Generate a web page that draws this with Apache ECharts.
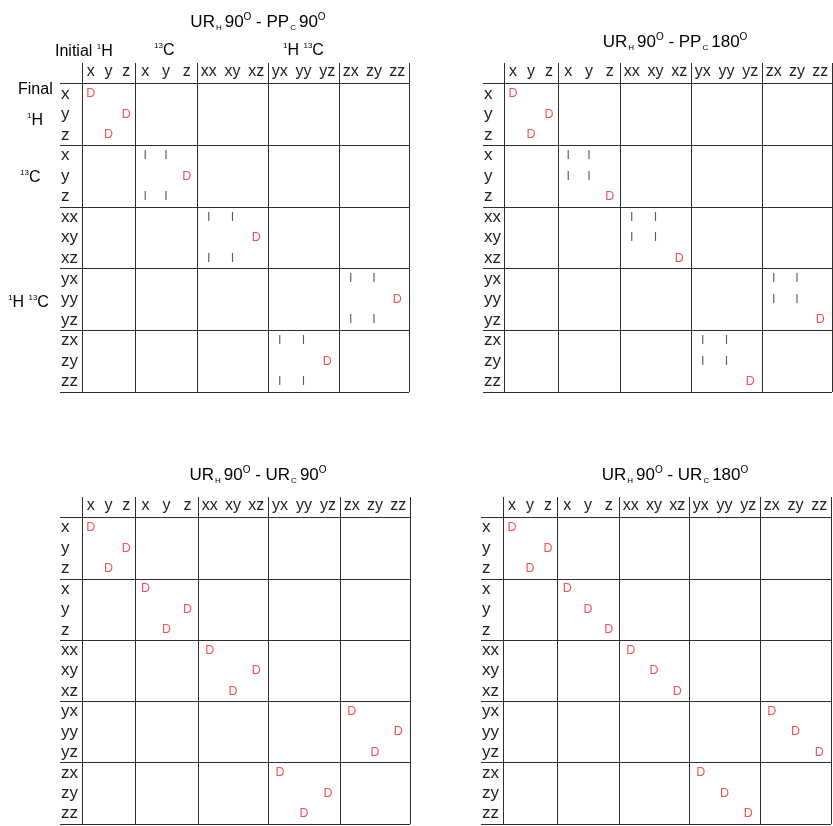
<!DOCTYPE html>
<html>
<head>
<meta charset="utf-8">
<script src="https://cdn.jsdelivr.net/npm/echarts@6/dist/echarts.min.js"></script>
<style>html,body{margin:0;padding:0;background:#fff}#c{width:833px;height:826px}</style>
</head>
<body>
<div id="c"></div>
<script>
// ---- data ----
const colLabels = ['x','y','z','x','y','z','xx','xy','xz','yx','yy','yz','zx','zy','zz'];
const rowLabels = ['x','y','z','x','y','z','xx','xy','xz','yx','yy','yz','zx','zy','zz'];
const panelTitles = [
  '{m|UR}{sb|H}{m|90}{sp|O}{m| - PP}{sb|C}{m|90}{sp|O}',
  '{m|UR}{sb|H}{m|90}{sp|O}{m| - PP}{sb|C}{m|180}{sp|O}',
  '{m|UR}{sb|H}{m|90}{sp|O}{m| - UR}{sb|C}{m|90}{sp|O}',
  '{m|UR}{sb|H}{m|90}{sp|O}{m| - UR}{sb|C}{m|180}{sp|O}'
];
// marks: [rowIndex, colIndex, symbol]
const marksPP90 = [
  [0,0,'D'],[1,2,'D'],[2,1,'D'],
  [3,3,'I'],[3,4,'I'],[4,5,'D'],[5,3,'I'],[5,4,'I'],
  [6,6,'I'],[6,7,'I'],[7,8,'D'],[8,6,'I'],[8,7,'I'],
  [9,12,'I'],[9,13,'I'],[10,14,'D'],[11,12,'I'],[11,13,'I'],
  [12,9,'I'],[12,10,'I'],[13,11,'D'],[14,9,'I'],[14,10,'I']
];
const marksPP180 = [
  [0,0,'D'],[1,2,'D'],[2,1,'D'],
  [3,3,'I'],[3,4,'I'],[4,3,'I'],[4,4,'I'],[5,5,'D'],
  [6,6,'I'],[6,7,'I'],[7,6,'I'],[7,7,'I'],[8,8,'D'],
  [9,12,'I'],[9,13,'I'],[10,12,'I'],[10,13,'I'],[11,14,'D'],
  [12,9,'I'],[12,10,'I'],[13,9,'I'],[13,10,'I'],[14,11,'D']
];
const marksUR90 = [
  [0,0,'D'],[1,2,'D'],[2,1,'D'],
  [3,3,'D'],[4,5,'D'],[5,4,'D'],
  [6,6,'D'],[7,8,'D'],[8,7,'D'],
  [9,12,'D'],[10,14,'D'],[11,13,'D'],
  [12,9,'D'],[13,11,'D'],[14,10,'D']
];
const marksUR180 = [
  [0,0,'D'],[1,2,'D'],[2,1,'D'],
  [3,3,'D'],[4,4,'D'],[5,5,'D'],
  [6,6,'D'],[7,7,'D'],[8,8,'D'],
  [9,12,'D'],[10,13,'D'],[11,14,'D'],
  [12,9,'D'],[13,10,'D'],[14,11,'D']
];

// ---- layout ----
const FONT = '"Liberation Sans", Arial, Helvetica, sans-serif';
const lineStyle = {color:'#2e2e2e', width:1};
const panels = [
  {marks:marksPP90,  edges:[82,135,197,268,339,409], labelLeft:60,  top:63,  bottom:392, tx:258, ty:22},
  {marks:marksPP180, edges:[504,558,620,691,762,832], labelLeft:483, top:63,  bottom:392, tx:675, ty:42},
  {marks:marksUR90,  edges:[82,135,198,268,340,410], labelLeft:60,  top:497, bottom:824, tx:258, ty:475},
  {marks:marksUR180, edges:[503,557,619,689,760,831], labelLeft:481, top:497, bottom:824, tx:675, ty:475}
];
const yCats = [''].concat(rowLabels);
const grid=[], xAxis=[], yAxis=[], series=[];
const hSplit = {show:true, interval:(i)=> i%3===1, lineStyle};

panels.forEach((p)=>{
  const h = p.bottom - p.top;
  let gi = grid.length;
  grid.push({left:p.labelLeft, top:p.top, width:p.edges[0]-p.labelLeft, height:h, outerBoundsMode:'none', containLabel:false});
  xAxis.push({type:'category', gridIndex:gi, data:['-'], show:false});
  yAxis.push({type:'category', gridIndex:gi, data:yCats, inverse:true,
    axisLine:{show:false}, axisTick:{show:false},
    axisLabel:{inside:true, margin:1, align:'left', verticalAlign:'middle', fontSize:17, color:'#222', fontFamily:FONT, interval:0},
    splitLine:hSplit});
  for (let b=0;b<5;b++){
    gi = grid.length;
    grid.push({left:p.edges[b], top:p.top, width:p.edges[b+1]-p.edges[b], height:h, outerBoundsMode:'none', containLabel:false});
    xAxis.push({type:'category', gridIndex:gi, position:'top', data:colLabels.slice(3*b,3*b+3),
      axisLine:{show:false}, axisTick:{show:false},
      axisLabel:{inside:true, margin:9, verticalAlign:'middle', fontSize:16, color:'#222', fontFamily:FONT, interval:0},
      splitLine:{show:true, interval:(i)=> i===0, lineStyle}});
    yAxis.push({type:'category', gridIndex:gi, data:yCats, inverse:true,
      axisLine:{show:false}, axisTick:{show:false}, axisLabel:{show:false}, splitLine:hSplit});
    ['D','I'].forEach(sym=>{
      const pts = p.marks.filter(m=> Math.floor(m[1]/3)===b && m[2]===sym).map(m=>[m[1]%3, m[0]+1]);
      if (!pts.length) return;
      series.push({type:'scatter', xAxisIndex:gi, yAxisIndex:gi, data:pts, symbolSize:1, silent:true,
        itemStyle:{color:'rgba(0,0,0,0)'},
        label:{show:true, position:'inside', formatter:()=>sym, fontSize:12.5, fontFamily:FONT,
          color: sym==='D' ? '#f0242b' : '#333'}});
    });
  }
});

const titleRich = {
  m:{fontSize:17, fontFamily:FONT, color:'#222', lineHeight:20},
  sb:{fontSize:8, fontFamily:FONT, color:'#222', lineHeight:8, verticalAlign:'bottom', padding:[0,3,0,1]},
  sp:{fontSize:10, fontFamily:FONT, color:'#222', lineHeight:8, verticalAlign:'top'}
};
const annRich = {
  n:{fontSize:16, fontFamily:FONT, color:'#222', lineHeight:18},
  s:{fontSize:8, fontFamily:FONT, color:'#222', lineHeight:8, verticalAlign:'top'}
};
const graphic = [];
panels.forEach((p,i)=>{
  graphic.push({type:'text', x:p.tx, y:p.ty, silent:true,
    style:{text:panelTitles[i], rich:titleRich, align:'center', verticalAlign:'middle'}});
});
const annotations = [
  ['{n|Initial }{s|1}{n|H}', 55, 52],
  ['{s|13}{n|C}', 154, 51],
  ['{s|1}{n|H }{s|13}{n|C}', 283, 51],
  ['{n|Final}', 18, 90],
  ['{s|1}{n|H}', 27, 121],
  ['{s|13}{n|C}', 20, 178],
  ['{s|1}{n|H }{s|13}{n|C}', 8, 303]
];
annotations.forEach(a=>{
  graphic.push({type:'text', x:a[1], y:a[2], silent:true,
    style:{text:a[0], rich:annRich, align:'left', verticalAlign:'middle'}});
});

const chart = echarts.init(document.getElementById('c'), null, {renderer:'canvas'});
chart.setOption({animation:false, backgroundColor:'#fff', grid, xAxis, yAxis, series, graphic});
</script>
</body>
</html>
